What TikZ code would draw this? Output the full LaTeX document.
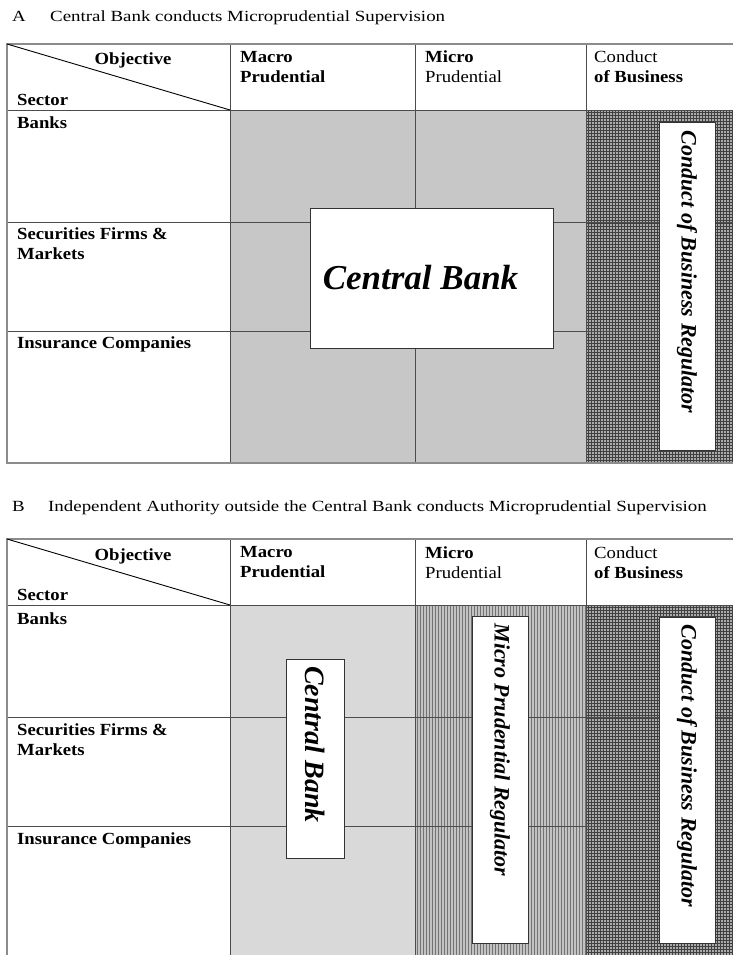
\documentclass[tikz,border=0pt]{standalone}
\usepackage{fontspec}
\setmainfont{Liberation Serif}
\newfontfamily\tabfont{Liberation Serif}[FakeStretch=1.1]
\newfontfamily\titlefont{Liberation Serif}[FakeStretch=1.22]
\usetikzlibrary{positioning}

\tikzset{
  rule/.style={draw=black!70, line width=0.8pt},
  frame/.style={draw=black!45, line width=1.6pt},
  title/.style={anchor=west, inner sep=0pt, font=\titlefont\fontsize{15.5}{18}\selectfont},
  hdr/.style={anchor=north west, inner sep=0pt, align=left, font=\tabfont\bfseries\fontsize{17}{20}\selectfont},
  regbox/.style={draw=black!80, fill=white, line width=0.9pt, inner sep=0pt, rotate=-90,
                 font=\bfseries\itshape\fontsize{22}{22}\selectfont},
  hatch/.style={draw=black!75, line width=0.6pt},
  vhatch/.style={draw=black!55, line width=0.7pt},
}

\begin{document}
\begin{tikzpicture}[x=1pt,y=-1pt]
\useasboundingbox[fill=white] (0,0) rectangle (733,955);

\node[title] (titleA) at (12,18) {\makebox[38pt][l]{A}Central Bank conducts Microprudential Supervision};
\node[title] (titleB) at (12,508) {\makebox[36pt][l]{B}Independent Authority outside the Central Bank conducts Microprudential Supervision};

% A: central bank does everything prudential
\fill[black!22] (230,110) rectangle (586,463);
\fill[black!33] (586,110) rectangle (733,463);
\foreach \x in {588,591,...,733} \draw[hatch] (\x,110) -- (\x,463);
\foreach \y in {112,115,...,463} \draw[hatch] (586,\y) -- (733,\y);
\draw[rule] (7,222) -- (733,222) (7,331) -- (733,331);
\draw[rule] (230,44) -- (230,463) (415,44) -- (415,463) (586,44) -- (586,463);
\draw[rule] (7,110) -- (733,110);
\draw[frame] (733,44) -- (7,44) -- (7,463) -- (733,463);
\draw[line width=0.9pt] (7,44) -- (230,110);

\node[hdr, anchor=north] (objA) at (133,53) {Objective};
\node[hdr] (secA) at (17,94) {Sector};
\node[hdr] (macroA) at (240,51) {Macro\\Prudential};
\node[hdr] (microA) at (425,51) {Micro\\\mdseries Prudential};
\node[hdr] (condA) at (594,51) {\mdseries Conduct\\of Business};
\node[hdr] (banksA) at (17,117) {Banks};
\node[hdr] (secfA) at (17,228) {Securities Firms \&\\Markets};
\node[hdr] (insA) at (17,337) {Insurance Companies};

\node[draw=black!80, fill=white, line width=0.9pt, minimum width=243pt, minimum height=140pt,
      font=\bfseries\itshape\fontsize{35}{35}\selectfont] (cbA) at (431.5,278) {Central Bank\kern22pt};
\node[regbox, minimum width=328pt, minimum height=56pt] (cobA) at (687,286) {Conduct of Business Regulator\kern28pt};

% B: separate micro prudential authority
\begin{scope}[shift={(0,495)}]
\fill[black!15] (230,110) rectangle (415,463);
\fill[black!24] (415,110) rectangle (586,463);
\foreach \x in {417,420,...,586} \draw[vhatch] (\x,110) -- (\x,463);
\fill[black!33] (586,110) rectangle (733,463);
\foreach \x in {588,591,...,733} \draw[hatch] (\x,110) -- (\x,463);
\foreach \y in {112,115,...,463} \draw[hatch] (586,\y) -- (733,\y);
\draw[rule] (7,222) -- (733,222) (7,331) -- (733,331);
\draw[rule] (230,44) -- (230,463) (415,44) -- (415,463) (586,44) -- (586,463);
\draw[rule] (7,110) -- (733,110);
\draw[frame] (733,44) -- (7,44) -- (7,463);
\draw[line width=0.9pt] (7,44) -- (230,110);

\node[hdr, anchor=north] (objB) at (133,53) {Objective};
\node[hdr] (secB) at (17,94) {Sector};
\node[hdr] (macroB) at (240,51) {Macro\\Prudential};
\node[hdr] (microB) at (425,51) {Micro\\\mdseries Prudential};
\node[hdr] (condB) at (594,51) {\mdseries Conduct\\of Business};
\node[hdr] (banksB) at (17,117) {Banks};
\node[hdr] (secfB) at (17,228) {Securities Firms \&\\Markets};
\node[hdr] (insB) at (17,337) {Insurance Companies};

\node[regbox, minimum width=199pt, minimum height=58pt, font=\bfseries\itshape\fontsize{28}{28}\selectfont] (cbB) at (315,263.5) {Central Bank\kern28pt};
\node[regbox, minimum width=327pt, minimum height=56pt] (mprB) at (500,284.5) {Micro Prudential Regulator\kern59pt};
\node[regbox, minimum width=326pt, minimum height=56pt] (cobB) at (687,285) {Conduct of Business Regulator\kern28pt};
\end{scope}
\end{tikzpicture}
\end{document}
